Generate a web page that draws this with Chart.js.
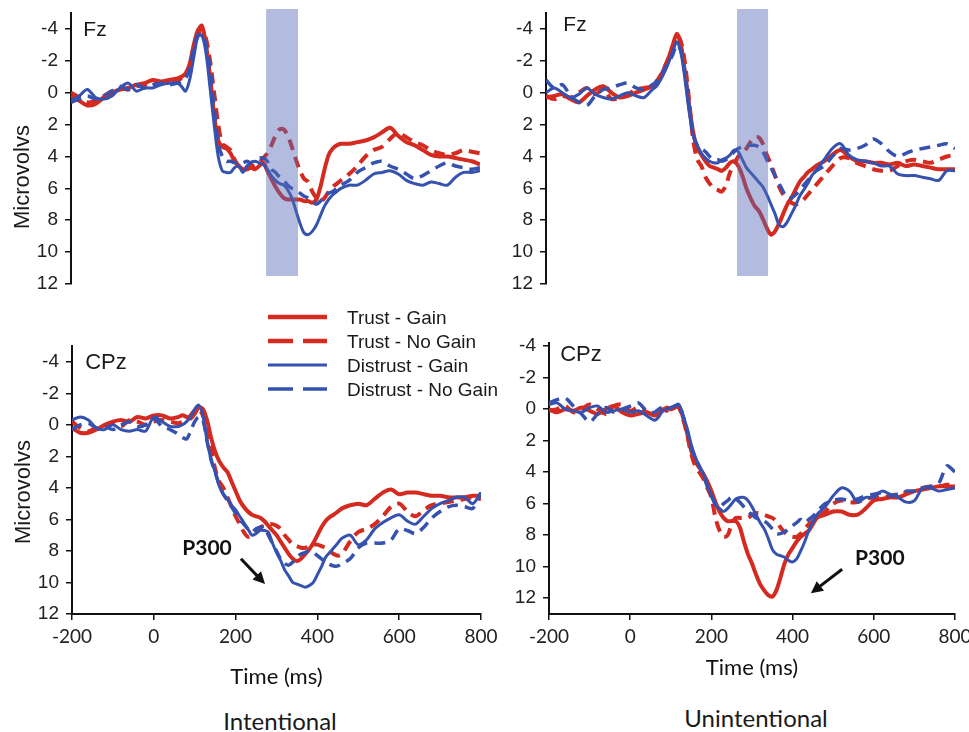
<!DOCTYPE html>
<html><head><meta charset="utf-8">
<script src="https://cdn.jsdelivr.net/npm/chart.js@4.4.0/dist/chart.umd.min.js"></script>
<style>
html,body{margin:0;padding:0;background:#fff;}
#wrap{position:relative;width:969px;height:732px;overflow:hidden;font-family:"Liberation Sans",Arial,sans-serif;color:#1a1a1a;}
.cv{position:absolute;}
.t{position:absolute;white-space:nowrap;line-height:1;transform:translate(-50%,-50%);}
.rot{transform:translate(-50%,-50%) rotate(-90deg);}
</style></head><body><div id="wrap">
<div class="cv" style="left:0;top:0"><canvas id="c0" width="490" height="300"></canvas></div>
<div class="cv" style="left:490px;top:0"><canvas id="c1" width="479" height="300"></canvas></div>
<div class="cv" style="left:490px;top:320px"><canvas id="c3" width="479" height="380"></canvas></div>
<div class="cv" style="left:0;top:320px"><canvas id="c2" width="510" height="380"></canvas></div>

<div class="t rot" style="left:22px;top:177px;font-size:22px">Microvolvs</div>
<div class="t rot" style="left:23px;top:492px;font-size:22px">Microvolvs</div>
<div class="t" style="left:95px;top:28px;font-size:21px">Fz</div>
<div class="t" style="left:575px;top:23px;font-size:21px">Fz</div>
<div class="t" style="left:106px;top:362px;font-size:22px">CPz</div>
<div class="t" style="left:581px;top:354px;font-size:22px">CPz</div>
<div class="t" style="left:280px;top:721px;font-size:24px;font-family:Lato">Intentional</div>
<div class="t" style="left:756px;top:718px;font-size:24px;font-family:Lato">Unintentional</div>

<svg style="position:absolute;left:0;top:0" width="969" height="732">
  <line x1="268" y1="317" x2="327" y2="317" stroke="#d42a1f" stroke-width="4.5"/>
  <line x1="268" y1="341" x2="327" y2="341" stroke="#d42a1f" stroke-width="4.5" stroke-dasharray="25,10"/>
  <line x1="268" y1="365" x2="327" y2="365" stroke="#3552b0" stroke-width="3"/>
  <line x1="268" y1="389" x2="327" y2="389" stroke="#3552b0" stroke-width="3.5" stroke-dasharray="25,10"/>
</svg>
<div class="t" style="left:347px;top:317px;font-size:19px;transform:translateY(-50%)">Trust - Gain</div>
<div class="t" style="left:347px;top:341px;font-size:19px;transform:translateY(-50%)">Trust - No Gain</div>
<div class="t" style="left:347px;top:365px;font-size:19px;transform:translateY(-50%)">Distrust - Gain</div>
<div class="t" style="left:347px;top:389px;font-size:19px;transform:translateY(-50%)">Distrust - No Gain</div>
</div>
<script>
// ---------- DATA ----------
const times = [-200,-180,-160,-140,-120,-100,-80,-60,-40,-20,0,20,40,
  60,70,80,90,100,110,120,130,140,150,160,170,180,190,200,210,220,230,240,250,260,270,280,290,300,
  310,320,330,340,350,360,370,380,390,400,410,420,430,440,450,460,
  480,500,520,540,560,580,600,620,640,660,680,700,720,740,760,780,800];
const xTickValues = [-200,0,200,400,600,800];
const yTickValues = [-4,-2,0,2,4,6,8,10,12];
const seriesNames = ['Trust - Gain','Trust - No Gain','Distrust - Gain','Distrust - No Gain'];

// Fz, Intentional
const fzIntTrustGain = [0.2,0.5,0.8,0.7,0.3,0.0,-0.2,-0.3,-0.5,-0.6,-0.8,-0.7,-0.8,
  -0.9,-1.0,-1.2,-1.8,-3.0,-3.9,-4.2,-3.0,-1.0,1.4,
  3.0,3.4,3.5,3.8,4.3,4.6,4.8,4.8,4.7,4.8,
  4.6,4.4,4.9,5.4,5.9,6.3,6.6,6.7,6.7,6.7,
  6.7,6.8,6.8,6.9,6.7,5.9,4.8,3.9,3.5,3.3,3.2,
  3.2,3.1,3.0,2.8,2.5,2.2,2.7,3.1,3.3,3.6,3.9,4.0,4.0,4.1,4.2,4.3,4.5];
const fzIntTrustNoGain = [0.0,0.3,0.6,0.5,0.2,-0.1,-0.3,-0.2,-0.4,-0.5,-0.6,-0.6,-0.7,
  -0.8,-0.9,-1.0,-1.5,-2.6,-3.6,-3.9,-3.4,-2.0,0.0,
  2.0,3.2,3.4,3.6,4.2,4.6,4.8,4.8,4.6,4.6,
  4.4,4.1,3.8,3.3,2.7,2.3,2.3,2.7,3.4,4.2,
  4.9,5.4,5.6,6.2,6.6,6.8,6.6,6.2,5.9,5.7,5.5,
  5.1,4.6,4.0,3.6,3.4,2.9,2.5,2.8,3.1,3.3,3.6,3.8,3.9,3.8,3.6,3.7,3.8];
const fzIntDistrustGain = [0.5,0.2,-0.2,0.3,0.4,0.2,-0.3,-0.6,-0.1,-0.3,-0.3,-0.5,-0.6,
  -0.6,-0.4,-0.1,-0.8,-2.2,-3.5,-3.6,-2.5,-0.3,2.0,
  4.0,4.9,5.0,5.0,4.7,4.6,5.0,4.6,4.4,4.3,
  4.4,4.5,4.8,5.2,5.5,5.7,5.8,6.1,6.6,7.4,
  8.2,8.8,8.9,8.7,8.3,7.7,7.1,6.7,6.4,6.2,6.0,
  5.8,5.8,5.5,5.1,5.0,4.9,5.1,5.5,5.7,5.8,5.6,5.7,5.8,5.3,5.0,5.0,4.9];
const fzIntDistrustNoGain = [0.6,0.4,0.2,0.4,0.2,-0.1,-0.4,-0.2,-0.5,-0.3,-0.5,-0.6,-0.5,
  -0.6,-0.7,-0.9,-1.5,-2.8,-3.6,-3.7,-3.0,-1.5,1.0,
  3.2,4.0,4.3,4.3,4.4,4.3,4.4,4.3,4.4,4.2,
  4.1,4.1,4.3,4.8,5.0,5.3,5.5,5.8,6.0,6.1,
  6.3,6.5,6.6,6.8,7.0,6.8,6.5,6.3,6.2,6.0,5.8,
  5.5,5.0,4.7,4.4,4.3,4.6,4.8,5.1,5.4,5.2,4.9,4.6,4.4,4.6,4.7,4.8,4.7];

// Fz, Unintentional
const fzUnTrustGain = [0.3,0.2,0.1,0.4,0.6,0.2,-0.2,-0.4,0.0,0.3,0.2,0.0,-0.2,
  -0.4,-0.6,-1.0,-1.6,-2.2,-3.0,-3.7,-3.0,-1.2,0.8,
  2.5,3.5,3.9,4.3,4.6,4.7,4.8,4.9,4.7,4.4,
  4.3,4.6,5.2,6.0,6.6,7.1,7.4,7.9,8.5,8.9,
  8.7,8.2,7.6,7.0,6.6,6.1,5.6,5.3,5.0,4.8,4.6,
  4.3,3.9,3.6,4.0,4.3,4.3,4.4,4.4,4.5,4.4,4.6,4.5,4.6,4.7,4.8,4.8,4.8];
const fzUnTrustNoGain = [0.2,0.4,0.2,0.3,0.0,-0.3,0.1,-0.2,0.4,0.3,0.1,-0.2,-0.3,
  -0.4,-0.7,-1.1,-1.6,-2.2,-2.8,-3.6,-3.2,-1.8,0.5,
  3.0,4.2,4.6,5.3,5.7,6.0,6.1,6.2,5.8,5.0,
  4.5,4.0,3.8,3.5,3.1,2.8,2.8,3.2,3.9,4.5,
  5.2,5.9,6.4,6.7,6.9,7.0,6.9,6.7,6.4,6.1,5.8,
  5.2,4.6,4.1,4.1,4.4,4.6,4.8,4.9,4.9,4.6,4.3,4.2,4.3,4.4,4.2,4.0,3.9];
const fzUnDistrustGain = [0.0,-0.3,0.0,0.3,0.1,-0.3,0.1,0.3,0.4,0.2,0.0,0.2,0.3,
  -0.2,-0.4,-0.8,-1.3,-1.9,-2.6,-3.2,-2.5,-0.8,1.2,
  2.7,3.3,3.8,4.1,4.3,4.4,4.4,4.2,4.1,3.9,
  3.6,3.7,4.2,4.7,5.0,5.3,5.6,5.9,6.4,7.0,
  7.6,8.3,8.4,8.1,7.6,7.1,6.5,6.1,5.7,5.2,4.9,
  4.2,3.5,3.2,3.9,4.2,4.3,4.4,4.6,4.6,5.1,5.2,5.2,5.3,5.4,5.5,4.9,4.9];
const fzUnDistrustNoGain = [-0.8,-0.3,-0.5,0.2,0.6,0.8,0.2,-0.2,-0.3,-0.5,-0.6,-0.3,-0.2,
  -0.5,-0.7,-1.0,-1.5,-1.9,-2.4,-3.0,-2.6,-1.2,0.8,
  2.6,3.3,3.5,3.7,4.0,4.2,4.2,4.3,4.2,4.0,
  3.7,3.5,3.4,3.3,3.3,3.3,3.4,3.7,4.2,4.7,
  5.2,5.7,6.2,6.6,6.6,6.4,6.1,5.8,5.5,5.2,4.9,
  4.6,4.0,3.5,3.6,3.5,3.3,2.9,3.2,3.7,4.0,3.8,3.6,3.5,3.4,3.3,3.2,3.5];

// CPz, Intentional
const cpzIntTrustGain = [0.2,0.5,0.5,0.3,0.0,-0.2,-0.3,-0.2,-0.5,-0.4,-0.6,-0.6,-0.4,
  -0.5,-0.6,-0.5,-0.4,-0.7,-1.1,-1.0,-0.3,0.8,1.7,
  2.3,2.7,3.0,3.6,4.2,4.8,5.2,5.5,5.7,5.8,
  5.9,6.1,6.4,6.7,7.0,7.4,7.8,8.2,8.5,8.65,
  8.5,8.2,7.9,7.5,7.0,6.5,6.1,5.85,5.7,5.5,5.3,
  5.1,5.0,5.1,4.7,4.3,4.1,4.4,4.3,4.3,4.4,4.5,4.5,4.6,4.6,4.6,4.5,4.5];
const cpzIntTrustNoGain = [-0.2,0.2,0.4,0.2,0.1,-0.1,0.1,-0.3,-0.2,0.0,-0.2,-0.3,-0.2,
  -0.1,-0.2,-0.3,-0.6,-0.9,-1.0,-0.6,0.2,1.5,2.8,
  3.6,4.0,4.6,5.2,5.8,6.3,6.8,7.1,7.0,6.8,
  6.5,6.4,6.3,6.3,6.4,6.6,7.0,7.3,7.6,7.7,
  7.8,7.8,7.7,7.6,7.6,7.7,7.8,8.0,8.2,8.3,8.2,
  7.4,6.8,6.6,6.3,5.8,5.2,5.0,5.5,5.8,5.4,5.1,5.0,4.9,4.8,4.7,4.6,4.7];
const cpzIntDistrustGain = [-0.3,-0.5,-0.3,0.2,0.3,0.0,0.3,0.4,0.3,0.4,-0.5,-0.2,0.1,
  0.1,0.0,-0.2,-0.5,-1.0,-1.25,-0.6,1.0,2.2,3.0,
  3.9,4.4,4.7,5.1,5.4,5.8,6.2,6.6,7.0,6.9,
  6.7,6.7,6.8,7.5,8.1,8.6,9.2,9.6,10.0,10.1,
  10.2,10.3,10.2,10.0,9.5,9.0,8.4,8.1,7.8,7.5,7.2,
  7.0,7.6,7.3,6.6,6.2,5.9,5.7,6.1,6.3,5.8,5.3,5.0,4.8,4.6,4.6,5.0,4.3];
const cpzIntDistrustNoGain = [0.3,0.0,-0.1,0.2,0.1,0.3,0.0,-0.2,0.1,0.0,-0.4,0.1,0.3,
  0.6,0.8,0.9,0.4,-0.2,-0.5,-0.3,1.0,2.2,3.0,
  3.8,4.4,4.8,5.2,5.6,6.0,6.3,6.6,6.8,6.6,
  6.5,6.5,7.0,7.5,8.0,8.5,8.8,8.9,8.7,8.4,
  8.2,8.1,8.0,8.1,8.3,8.5,8.7,8.85,8.95,8.95,8.8,
  8.5,7.8,7.5,7.5,7.5,7.3,6.6,6.7,6.9,6.5,5.9,5.5,5.2,5.1,5.2,5.3,4.3];

// CPz, Unintentional
const cpzUnTrustGain = [0.0,0.2,0.0,0.1,-0.1,0.1,0.3,0.0,-0.2,0.2,0.4,0.3,0.2,
  0.4,0.3,0.1,-0.1,0.0,-0.1,-0.2,0.5,1.5,2.6,
  3.3,3.7,4.1,4.6,5.2,5.9,6.5,6.9,7.1,7.1,
  7.1,7.5,8.4,9.2,9.8,10.5,11.1,11.5,11.8,11.9,
  11.5,10.7,9.8,9.2,8.8,8.4,8.1,7.9,7.7,7.3,6.9,
  6.7,6.5,6.5,6.7,6.7,6.3,5.8,5.7,5.6,5.6,5.4,5.2,5.1,5.0,4.9,4.9,4.9];
const cpzUnTrustNoGain = [0.1,0.0,-0.2,0.2,0.0,-0.3,0.0,0.3,-0.2,-0.3,0.1,-0.1,0.2,
  0.3,0.1,0.0,0.1,-0.1,-0.2,-0.1,0.6,1.6,2.8,
  3.6,4.0,4.4,5.0,5.6,6.9,7.7,8.1,8.0,7.3,
  6.9,6.9,6.9,6.9,6.7,6.6,6.6,6.7,6.8,6.9,
  7.1,7.5,7.8,8.0,8.1,8.1,7.9,7.6,7.3,7.1,6.9,
  6.5,6.0,5.8,5.9,5.9,5.7,5.6,5.6,5.5,5.4,5.3,5.2,5.0,4.9,4.9,4.8,4.8];
const cpzUnDistrustGain = [-0.3,-0.4,0.0,0.1,0.2,-0.1,-0.2,0.2,0.1,0.0,0.2,0.1,0.4,
  0.7,0.5,0.1,0.0,-0.1,-0.2,-0.3,0.4,1.2,2.2,
  3.0,3.6,4.1,4.8,5.5,6.1,6.3,6.5,6.3,6.0,
  5.7,5.6,5.6,5.8,6.2,6.7,7.2,7.6,8.2,8.9,
  9.2,9.3,9.4,9.6,9.7,9.5,9.0,8.4,7.7,7.2,6.7,
  6.2,5.5,5.0,5.2,5.9,5.6,5.6,5.2,5.4,5.6,5.9,5.8,5.0,5.0,5.2,5.1,5.0];
const cpzUnDistrustNoGain = [-0.4,-0.6,-0.7,-0.2,0.3,0.8,0.3,-0.1,0.2,0.0,-0.2,-0.4,0.1,
  0.2,0.0,-0.1,0.0,-0.1,-0.2,-0.3,0.4,1.3,2.4,
  3.1,3.6,4.2,4.9,5.5,6.0,6.2,6.0,5.8,5.6,
  5.7,5.9,6.2,6.5,6.7,6.9,7.0,7.1,7.3,7.6,
  7.9,7.9,7.8,7.6,7.4,7.2,7.0,7.2,7.0,6.8,6.5,
  6.0,5.8,5.7,5.8,5.7,5.5,5.4,5.3,5.5,5.4,5.2,5.2,5.0,4.9,4.7,3.6,4.0];

// shaded analysis windows (ms)
const fzIntBand = [277, 355];
const fzUnBand = [267, 343];

// ---------- RENDERING ----------
const RED = '#d42a1f', BLUE = '#3552b0';
Chart.defaults.animation = false;
Chart.defaults.events = [];

function mk(label, data, color, dashed, width, order) {
  return {
    label, order,
    data: times.map((t, i) => ({x: t, y: data[i]})),
    borderColor: color, backgroundColor: color,
    borderWidth: width, borderDash: dashed ? [11, 7] : [],
    pointRadius: 0, tension: 0.3, fill: false,
    borderJoinStyle: 'round'
  };
}

const bandPlugin = {
  id: 'band',
  afterDatasetsDraw(chart, args, o) {
    if (!o || !o.range) return;
    const {ctx, scales: {x, y}} = chart;
    const x0 = x.getPixelForValue(o.range[0]), x1 = x.getPixelForValue(o.range[1]);
    const y0 = y.getPixelForValue(o.yFrom), y1 = y.getPixelForValue(o.yTo);
    ctx.save();
    ctx.fillStyle = 'rgba(87,107,182,0.45)';
    ctx.fillRect(x0, Math.min(y0, y1), x1 - x0, Math.abs(y1 - y0));
    ctx.restore();
  }
};

const annPlugin = {
  id: 'ann',
  afterDraw(chart, args, o) {
    if (!o || !o.text) return;
    const {ctx, scales: {x, y}} = chart;
    ctx.save();
    ctx.fillStyle = '#111';
    ctx.font = 'bold 21px Lato, "Liberation Sans", sans-serif';
    ctx.textAlign = 'center';
    ctx.textBaseline = 'middle';
    ctx.fillText(o.text, x.getPixelForValue(o.at[0]), y.getPixelForValue(o.at[1]));
    const ax = x.getPixelForValue(o.from[0]), ay = y.getPixelForValue(o.from[1]);
    const bx = x.getPixelForValue(o.to[0]), by = y.getPixelForValue(o.to[1]);
    const ang = Math.atan2(by - ay, bx - ax);
    const hl = 12, hw = 6;
    ctx.strokeStyle = '#111';
    ctx.lineWidth = 3;
    ctx.beginPath();
    ctx.moveTo(ax, ay);
    ctx.lineTo(bx - hl * 0.8 * Math.cos(ang), by - hl * 0.8 * Math.sin(ang));
    ctx.stroke();
    ctx.beginPath();
    ctx.moveTo(bx, by);
    ctx.lineTo(bx - hl * Math.cos(ang) + hw * Math.sin(ang), by - hl * Math.sin(ang) - hw * Math.cos(ang));
    ctx.lineTo(bx - hl * Math.cos(ang) - hw * Math.sin(ang), by - hl * Math.sin(ang) + hw * Math.cos(ang));
    ctx.closePath();
    ctx.fill();
    ctx.restore();
  }
};

function panel(id, sets, p) {
  const datasets = [
    mk(seriesNames[0], sets[0], RED, false, 4, 4),
    mk(seriesNames[1], sets[1], RED, true, 4, 3),
    mk(seriesNames[2], sets[2], BLUE, false, 3, 1),
    mk(seriesNames[3], sets[3], BLUE, true, 3.5, 2)
  ];
  new Chart(document.getElementById(id), {
    type: 'line',
    data: {datasets},
    plugins: [bandPlugin, annPlugin],
    options: {
      responsive: false,
      devicePixelRatio: 1,
      layout: {padding: p.pad},
      plugins: {
        legend: {display: false},
        tooltip: {enabled: false},
        band: p.band || {},
        ann: p.ann || {}
      },
      scales: {
        x: {
          type: 'linear', min: -200, max: 800, display: p.showX,
          afterBuildTicks: s => { s.ticks = xTickValues.map(v => ({value: v})); },
          grid: {drawOnChartArea: false, drawTicks: true, tickLength: 6, color: '#111', lineWidth: 1.5},
          border: {display: true, color: '#111', width: 2},
          ticks: {color: '#222', font: {family: 'Lato', size: 19}, padding: 5, maxRotation: 0, autoSkip: false},
          title: {display: true, text: 'Time (ms)', color: '#111', font: {family: 'Lato', size: 22}, padding: {top: 0, bottom: p.titlePad || 10}},
          afterFit: s => { if (p.showX) { s.height = 86; } s.paddingLeft = 0; s.paddingRight = 0; }
        },
        y: {
          type: 'linear', reverse: true, min: p.ymin, max: p.ymax,
          afterBuildTicks: s => { s.ticks = yTickValues.map(v => ({value: v})); },
          grid: {drawOnChartArea: false, drawTicks: true, tickLength: 6, color: '#111', lineWidth: 1.5},
          border: {display: true, color: '#111', width: 2},
          ticks: {color: '#222', font: {family: '"Liberation Sans", Arial, sans-serif', size: p.yFont}, padding: 7, autoSkip: false},
          afterFit: s => { s.width = p.yw; s.paddingTop = 0; s.paddingBottom = 0; }
        }
      }
    }
  });
}

panel('c0', [fzIntTrustGain, fzIntTrustNoGain, fzIntDistrustGain, fzIntDistrustNoGain], {
  pad: {left: 0, top: 13, right: 10, bottom: 16}, yw: 71, ymin: -5, ymax: 12, yFont: 19, showX: false,
  band: {range: fzIntBand, yFrom: -5.25, yTo: 11.5}
});
panel('c1', [fzUnTrustGain, fzUnTrustNoGain, fzUnDistrustGain, fzUnDistrustNoGain], {
  pad: {left: 0, top: 13, right: 14, bottom: 16}, yw: 56, ymin: -5, ymax: 12, yFont: 19, showX: false,
  band: {range: fzUnBand, yFrom: -5.25, yTo: 11.5}
});
panel('c2', [cpzIntTrustGain, cpzIntTrustNoGain, cpzIntDistrustGain, cpzIntDistrustNoGain], {
  pad: {left: 0, top: 26, right: 29, bottom: 0}, yw: 72, ymin: -5, ymax: 12, yFont: 19, showX: true, titlePad: 10,
  ann: {text: 'P300', at: [130, 7.8], from: [213, 8.5], to: [272, 10.1]}
});
panel('c3', [cpzUnTrustGain, cpzUnTrustNoGain, cpzUnDistrustGain, cpzUnDistrustNoGain], {
  pad: {left: 0, top: 23, right: 14, bottom: 0}, yw: 59, ymin: -4.2, ymax: 13, yFont: 19, showX: true, titlePad: 19,
  ann: {text: 'P300', at: [615, 9.46], from: [522, 10.16], to: [445, 11.68]}
});
</script>
</body></html>
